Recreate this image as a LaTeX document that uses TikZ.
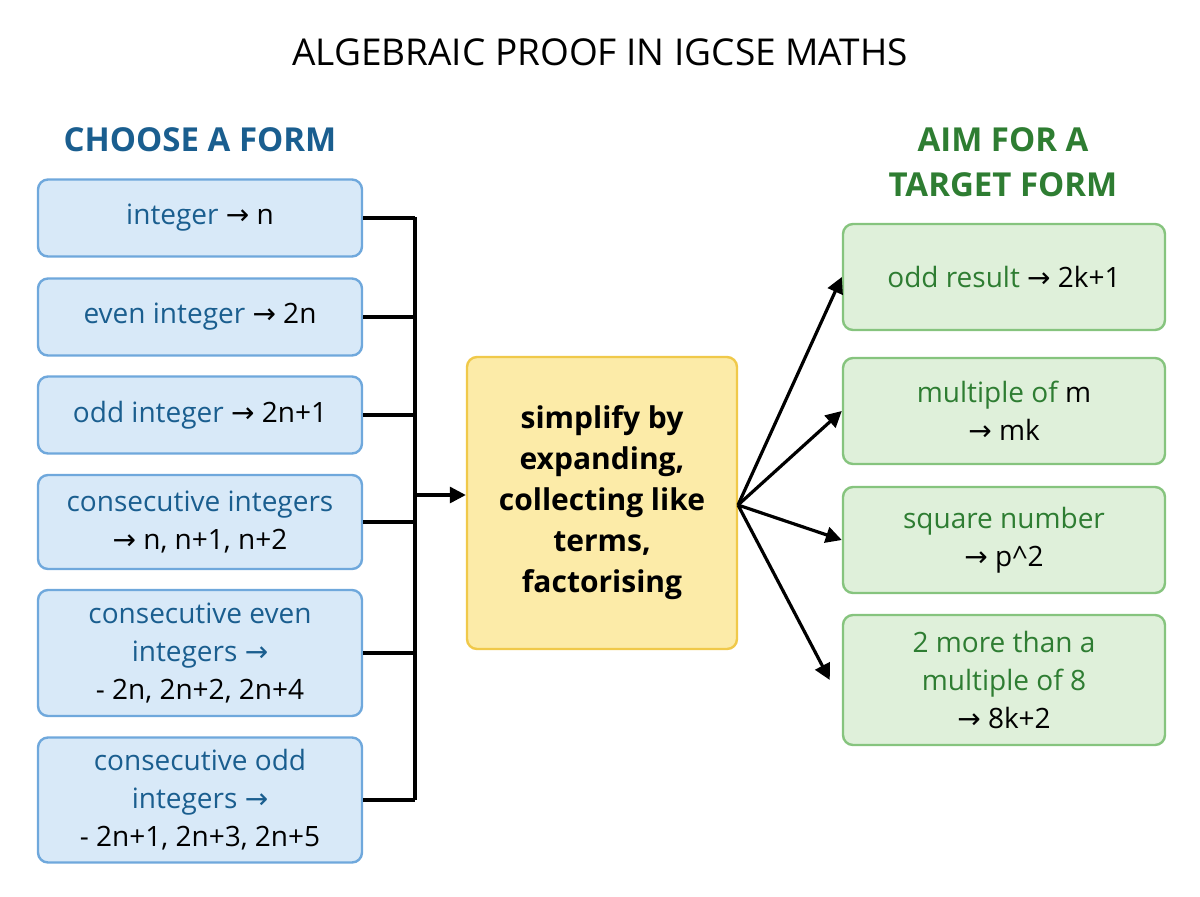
\documentclass[tikz,border=0pt]{standalone}
\usepackage{fontspec}
\setmainfont{Open Sans}
\newfontfamily\arr{DejaVu Sans}
\usetikzlibrary{arrows.meta}
\definecolor{bfill}{HTML}{D8E9F8}\definecolor{bdraw}{HTML}{6FA8DC}\definecolor{btext}{HTML}{1A5E8F}
\definecolor{gfill}{HTML}{DFF0DA}\definecolor{gdraw}{HTML}{86C47E}\definecolor{gtext}{HTML}{2E7D32}
\definecolor{yfill}{HTML}{FCEBA8}\definecolor{ydraw}{HTML}{F0C94A}
\newcommand{\ar}{{\arr →}}
\begin{document}
\begin{tikzpicture}[x=0.5pt,y=-0.5pt,
 bx/.style={rounded corners=5pt,line width=1.2pt,font=\fontsize{14}{19}\selectfont,align=center},
 blue/.style={bx,fill=bfill,draw=bdraw,text=btext},
 green/.style={bx,fill=gfill,draw=gdraw,text=gtext},
 ln/.style={line width=1.6pt},
 ar/.style={ln,-{Triangle[length=8pt,width=8pt]}}]
\useasboundingbox (0,0) rectangle (1200,896);
\node[font=\fontsize{18.5}{22}\selectfont] (title) at (600,52) {ALGEBRAIC PROOF IN IGCSE MATHS};
\node[font=\bfseries\fontsize{16.5}{19}\selectfont,text=btext] (h1) at (200,140) {CHOOSE A FORM};
\node[font=\bfseries\fontsize{16.5}{22.5}\selectfont,text=gtext,align=center] (h2) at (1003,162) {AIM FOR A\\TARGET FORM};
\newcommand{\lb}[4]{\node[blue,minimum width=162pt,minimum height=#3*0.5pt] (#1) at (200,#2) {#4};}
\lb{l1}{218}{77}{integer \textcolor{black}{\ar\ n}}
\lb{l2}{317}{77}{even integer \textcolor{black}{\ar\ 2n}}
\lb{l3}{415}{77}{odd integer \textcolor{black}{\ar\ 2n+1}}
\lb{l4}{522}{94}{consecutive integers\\\textcolor{black}{\ar\ n, n+1, n+2}}
\lb{l5}{653}{126}{consecutive even\\integers \ar\\\textcolor{black}{- 2n, 2n+2, 2n+4}}
\lb{l6}{800}{125}{consecutive odd\\integers \ar\\\textcolor{black}{- 2n+1, 2n+3, 2n+5}}
\coordinate (t) at (415,217); \coordinate (b) at (415,800); \coordinate (m) at (415,495);
\draw[ln] (t) -- (b);
\foreach \n in {l1,l2,l3,l4,l5,l6} \draw[ln] (\n.east) -- (\n.east -| t);
\node[bx,fill=yfill,draw=ydraw,minimum width=135pt,minimum height=146pt,font=\bfseries\fontsize{15}{20.5}\selectfont] (c) at (602,503) {simplify by\\expanding,\\collecting like\\terms,\\factorising};
\draw[ar] (m) -- (c.west |- m);
\newcommand{\rb}[4]{\node[green,minimum width=161pt,minimum height=#3*0.5pt] (#1) at (1004,#2) {#4};}
\rb{r1}{277}{106}{odd result \textcolor{black}{\ar\ 2k+1}}
\rb{r2}{411}{106}{multiple of \textcolor{black}{m}\\\textcolor{black}{\ar\ mk}}
\rb{r3}{540}{106}{square number\\\textcolor{black}{\ar\ p\textasciicircum 2}}
\rb{r4}{680}{130}{2 more than a\\multiple of 8\\\textcolor{black}{\ar\ 8k+2}}
\coordinate (o) at (738,505);
\draw[ar] (o) -- (r1.west);
\draw[ar] (o) -- (r2.west);
\draw[ar] (o) -- (r3.west);
\draw[ar] (o) -- ([xshift=-6pt]r4.west);
\end{tikzpicture}
\end{document}
